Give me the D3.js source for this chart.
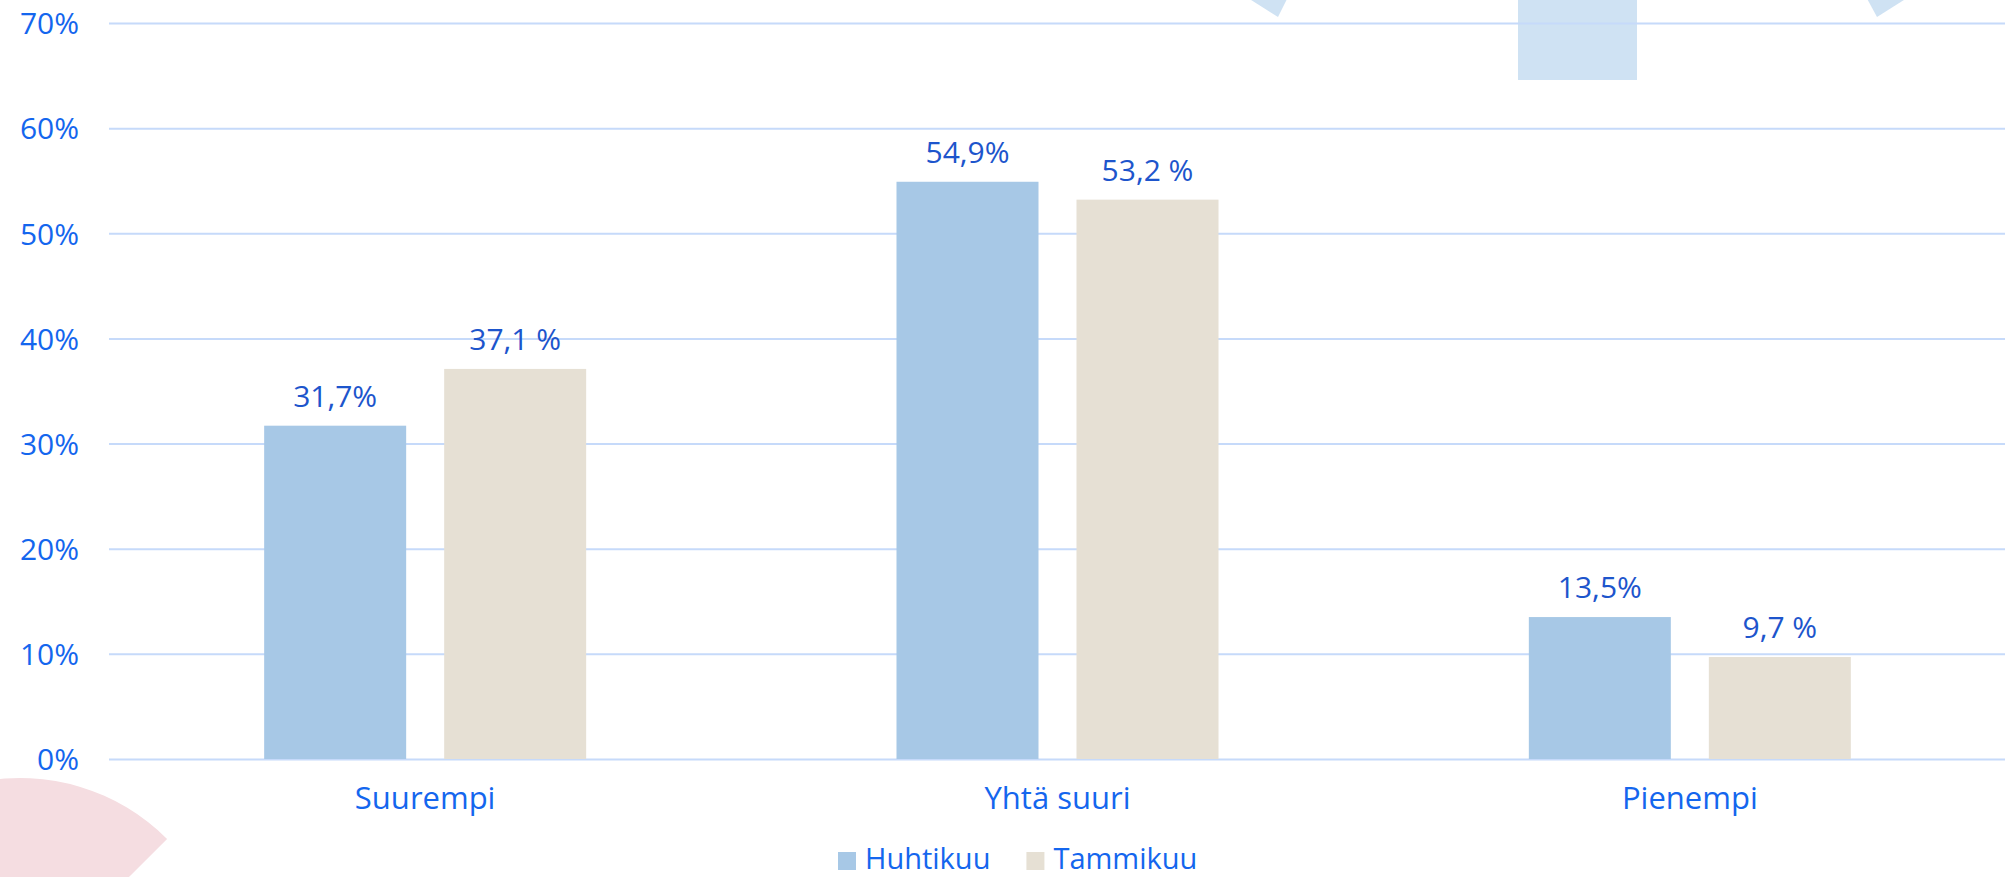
<!DOCTYPE html>
<html>
<head>
<meta charset="utf-8">
<script src="https://cdn.jsdelivr.net/npm/d3@7"></script>
<style>
  html, body { margin: 0; padding: 0; background: #ffffff; }
  svg { display: block; }
  text { font-family: "Open Sans", sans-serif; }
</style>
</head>
<body>
<svg id="chart" width="2005" height="877"></svg>
<script>
// ---- data ----
const categories = ["Suurempi", "Yhtä suuri", "Pienempi"];
const seriesNames = ["Huhtikuu", "Tammikuu"];
const huhtikuu = [0.317, 0.549, 0.135];
const tammikuu = [0.371, 0.532, 0.097];
const huhtikuuLabels = ["31,7%", "54,9%", "13,5%"];
const tammikuuLabels = ["37,1 %", "53,2 %", "9,7 %"];
const yTicks = [0, 0.1, 0.2, 0.3, 0.4, 0.5, 0.6, 0.7];

const colors = { "Huhtikuu": "#a7c8e6", "Tammikuu": "#e6e0d4" };
const axisBlue = "#1466ee";
const labelBlue = "#1d55cc";
const gridColor = "#c6dafa";

const svg = d3.select("#chart");
const W = 2005, H = 877;
const plot = { left: 109, right: 2006, top: 23, bottom: 759 };

// ---- background decorations ----
const deco = svg.append("g");
deco.append("path")
  .attr("transform", "translate(20,986)")
  .attr("d", d3.arc()({ innerRadius: 0, outerRadius: 208, startAngle: -Math.PI, endAngle: Math.PI / 4 }))
  .attr("fill", "#f5dde1");
deco.append("polygon").attr("points", "1240,-7 1290,-7 1278,17").attr("fill", "#cfe2f3");
deco.append("polygon").attr("points", "1864,-7 1915,-7 1877,17").attr("fill", "#cfe2f3");
deco.append("rect").attr("x", 1518).attr("y", 0).attr("width", 119).attr("height", 80).attr("fill", "#cfe2f3");

// ---- scales ----
const y = d3.scaleLinear().domain([0, 0.7]).range([plot.bottom, plot.top]);
const x0 = d3.scaleBand().domain(categories).range([plot.left, plot.right]).padding(0);
const x1 = d3.scaleBand().domain(seriesNames).range([0, x0.bandwidth()])
  .paddingInner(0.2111).paddingOuter(0.862);

// ---- y axis with gridlines ----
const yAxis = d3.axisLeft(y)
  .tickValues(yTicks)
  .tickFormat(d3.format(".0%"))
  .tickSize(-(W - plot.left))
  .tickPadding(30);
const gy = svg.append("g").attr("transform", `translate(${plot.left},0)`).call(yAxis);
gy.select(".domain").remove();
gy.selectAll(".tick line").attr("stroke", gridColor).attr("stroke-width", 2);
gy.selectAll(".tick text")
  .attr("fill", axisBlue)
  .attr("font-size", 30)
  .attr("font-family", "'Open Sans', sans-serif")
  .attr("dy", "0.36em");

// ---- bars ----
const rows = categories.map((c, i) => ({
  cat: c,
  vals: [
    { s: "Huhtikuu", v: huhtikuu[i], label: huhtikuuLabels[i] },
    { s: "Tammikuu", v: tammikuu[i], label: tammikuuLabels[i] }
  ]
}));

const groups = svg.append("g").selectAll("g").data(rows).join("g")
  .attr("transform", d => `translate(${x0(d.cat)},0)`);

groups.selectAll("rect").data(d => d.vals).join("rect")
  .attr("x", d => x1(d.s))
  .attr("y", d => y(d.v))
  .attr("width", x1.bandwidth())
  .attr("height", d => y(0) - y(d.v))
  .attr("fill", d => colors[d.s]);

groups.selectAll("text.val").data(d => d.vals).join("text")
  .attr("class", "val")
  .attr("x", d => x1(d.s) + x1.bandwidth() / 2)
  .attr("y", d => y(d.v) - 19)
  .attr("text-anchor", "middle")
  .attr("font-size", 30)
  .attr("fill", labelBlue)
  .text(d => d.label);

// ---- category labels ----
svg.append("g").selectAll("text").data(categories).join("text")
  .attr("x", d => x0(d) + x0.bandwidth() / 2)
  .attr("y", 809)
  .attr("text-anchor", "middle")
  .attr("font-size", 31)
  .attr("fill", axisBlue)
  .text(d => d);

// ---- legend ----
const legend = svg.append("g");
let lx = 838;
seriesNames.forEach(s => {
  legend.append("rect").attr("x", lx).attr("y", 852).attr("width", 18).attr("height", 18).attr("fill", colors[s]);
  const t = legend.append("text").attr("x", lx + 27).attr("y", 869)
    .attr("font-size", 29).attr("fill", axisBlue).text(s);
  lx = lx + 27 + t.node().getComputedTextLength() + 36;
});
</script>
</body>
</html>
